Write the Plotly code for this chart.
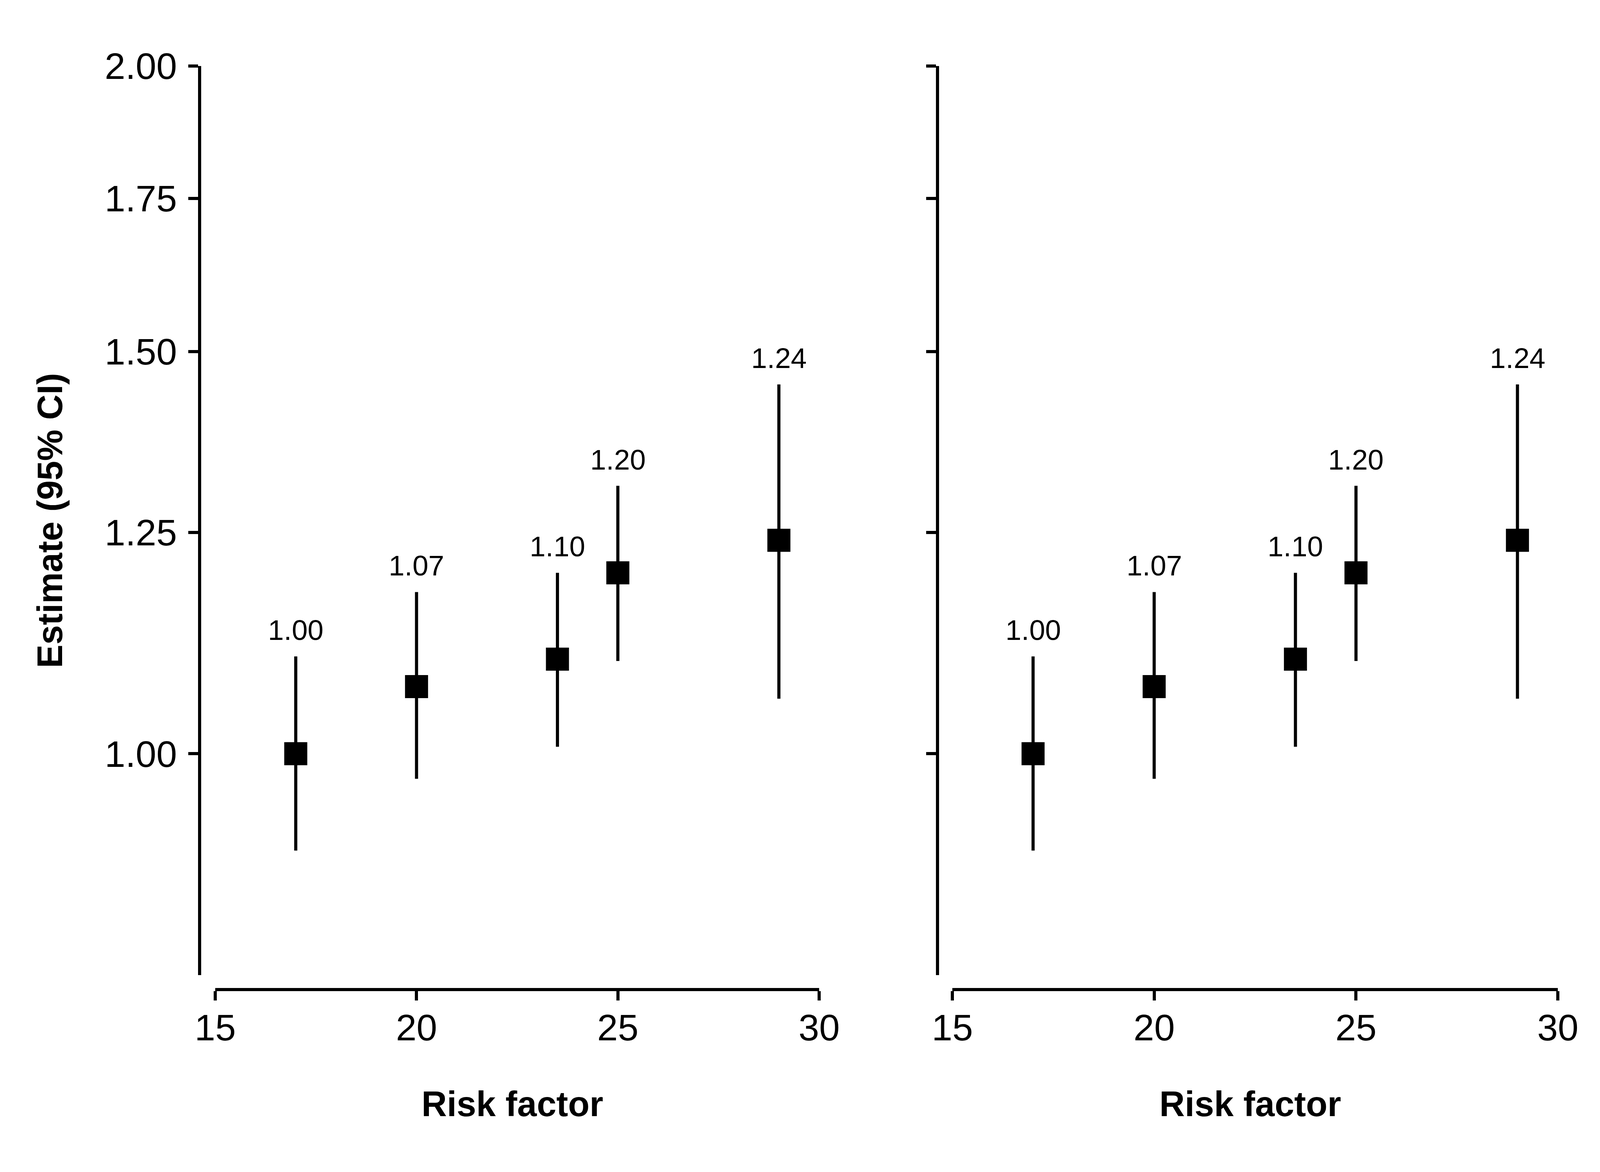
import numpy as np
import plotly.graph_objects as go

# ---- data ----
risk_factor = [17, 20, 23.5, 25, 29]
estimate = [1.00, 1.07, 1.10, 1.20, 1.24]
ci_lower = [0.907, 0.975, 1.007, 1.098, 1.057]
ci_upper = [1.103, 1.177, 1.200, 1.310, 1.451]
value_labels = ["1.00", "1.07", "1.10", "1.20", "1.24"]

x_ticks = [15, 20, 25, 30]
y_ticks = [1.00, 1.25, 1.50, 1.75, 2.00]
y_ticktext = ["1.00", "1.25", "1.50", "1.75", "2.00"]
y_min, y_max = 0.80, 2.00

panels = ["left", "right"]

W, H = 4200, 3000
FONT = "Liberation Sans, Arial, Helvetica, sans-serif"

fig = go.Figure()

err_plus = [u - e for u, e in zip(ci_upper, estimate)]
err_minus = [e - l for e, l in zip(estimate, ci_lower)]

# layout geometry in pixels
y_top_px, y_bot_px = 161, 2488
xaxis_line_px = 2525
panel_geo = [
    dict(x15=543, x30=2089, yaxis_px=503),
    dict(x15=2430, x30=3980, yaxis_px=2392),
]

annotations = []
for i, (name, geo) in enumerate(zip(panels, panel_geo)):
    xa = "x" if i == 0 else f"x{i+1}"
    ya = "y" if i == 0 else f"y{i+1}"
    fig.add_trace(go.Scatter(
        x=risk_factor, y=estimate, mode="markers",
        marker=dict(symbol="square", size=59, color="black", line=dict(width=0)),
        error_y=dict(type="data", symmetric=False, array=err_plus, arrayminus=err_minus,
                     thickness=8, width=0, color="black"),
        xaxis=xa, yaxis=ya, showlegend=False, hoverinfo="skip",
    ))
    for xv, up, lab in zip(risk_factor, ci_upper, value_labels):
        annotations.append(dict(
            x=xv, y=float(np.log10(up)), xref=xa, yref=ya, text=lab, showarrow=False,
            xanchor="center", yanchor="bottom", yshift=25,
            font=dict(family=FONT, size=73, color="black"),
        ))
    axis_common = dict(showline=True, linewidth=8, linecolor="black", showgrid=False,
                       zeroline=False, ticks="outside", tickwidth=8, tickcolor="black",
                       automargin=False,
                       tickfont=dict(family=FONT, size=95, color="black"))
    xkey = "xaxis" if i == 0 else f"xaxis{i+1}"
    ykey = "yaxis" if i == 0 else f"yaxis{i+1}"
    fig.update_layout(**{
        xkey: dict(axis_common, domain=[geo["x15"] / W, geo["x30"] / W], range=[15, 30],
                   tickvals=x_ticks, ticklen=24, anchor="free",
                   position=1 - xaxis_line_px / H, ticklabelstandoff=-12),
        ykey: dict(axis_common, domain=[1 - y_bot_px / H, 1 - y_top_px / H], type="log",
                   range=[np.log10(y_min), np.log10(y_max)], tickvals=y_ticks,
                   ticktext=y_ticktext, ticklen=25, anchor="free",
                   position=geo["yaxis_px"] / W, showticklabels=(i == 0),
                   ticklabelstandoff=10),
    })
    annotations.append(dict(
        x=(geo["x15"] + geo["x30"]) / 2 / W - 0.003, y=1 - 2818 / H, xref="paper", yref="paper",
        text="<b>Risk factor</b>", showarrow=False, xanchor="center", yanchor="middle",
        font=dict(family=FONT, size=90, color="black"),
    ))

annotations.append(dict(
    x=120 / W, y=1 - 1325 / H, xref="paper", yref="paper",
    text="<b>Estimate (95% CI)</b>", showarrow=False, textangle=-90,
    xanchor="center", yanchor="middle",
    font=dict(family=FONT, size=90, color="black"),
))

fig.update_layout(
    width=W, height=H, margin=dict(l=0, r=0, t=0, b=0, autoexpand=False),
    paper_bgcolor="white", plot_bgcolor="white",
    annotations=annotations, showlegend=False,
)

fig.write_html("out.html")
